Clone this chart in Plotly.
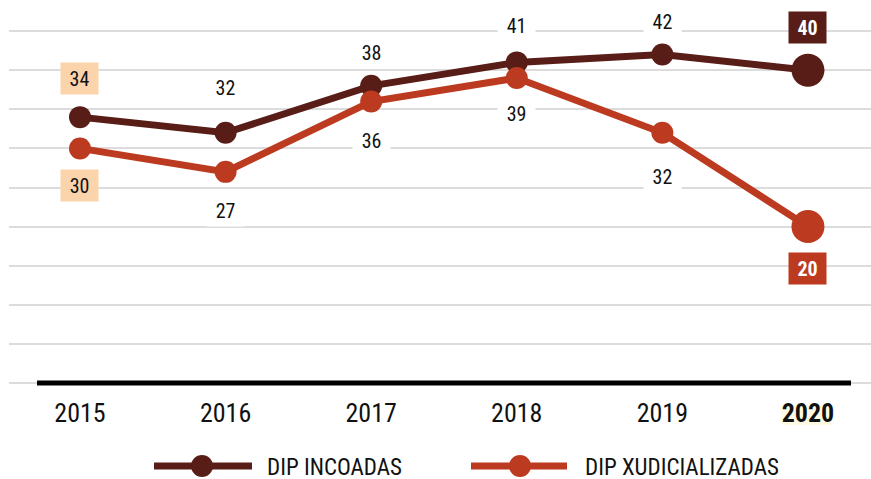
import plotly.graph_objects as go

years = ["2015", "2016", "2017", "2018", "2019", "2020"]
incoadas = [34, 32, 38, 41, 42, 40]
xudicializadas = [30, 27, 36, 39, 32, 20]
series_names = ["DIP INCOADAS", "DIP XUDICIALIZADAS"]

# styling
C1 = "#581d17"
C2 = "#bc3a1f"
PEACH = "#fcd4ac"
FONT = "Liberation Sans Narrow, Arial Narrow, Roboto Condensed, DejaVu Sans Condensed, sans-serif"
label_shift_1 = [39, 45, 33, 37, 33, 43]    # px above point
label_shift_2 = [37, 39, 39, 35, 44, 42]    # px below point

xi = list(range(len(years)))
last = len(years) - 1
sizes = [22] * last + [33]

fig = go.Figure()
for vals, col, name in [(incoadas, C1, series_names[0]), (xudicializadas, C2, series_names[1])]:
    fig.add_trace(go.Scatter(
        x=xi, y=vals, mode="lines+markers", name=name,
        line=dict(color=col, width=7),
        marker=dict(color=col, size=sizes, opacity=1, line=dict(width=0)),
        showlegend=False, hoverinfo="skip"))

ann = []
for series, shifts, col, sign in [(incoadas, label_shift_1, C1, 1), (xudicializadas, label_shift_2, C2, -1)]:
    for i, v in enumerate(series):
        if i == 0:
            bg, fc, txt = PEACH, "#111", str(v)
        elif i == last:
            bg, fc, txt = col, "white", "<b>%d</b>" % v
        else:
            bg, fc, txt = "white", "#111", str(v)
        ann.append(dict(x=i, y=v, xref="x", yref="y", text=txt, showarrow=False,
                        yshift=sign * shifts[i], bgcolor=bg, width=37, height=31,
                        borderpad=0, align="center", valign="middle",
                        font=dict(family=FONT, size=20, color=fc)))

# legend (manual)
leg = [(151, 255, 202, 266, C1, series_names[0]), (468, 570, 520, 584, C2, series_names[1])]
def px_x(p):
    return (p - 9) / 862.0
def px_y(p):
    return (395 - p) / 395.0
shapes = []
for x0, x1, xc, xt, col, name in leg:
    shapes.append(dict(type="line", xref="paper", yref="paper", x0=px_x(x0 + 3), x1=px_x(x1 - 3),
                       y0=px_y(466), y1=px_y(466), line=dict(color=col, width=7)))
    shapes.append(dict(type="circle", xref="paper", yref="paper", xsizemode="pixel", ysizemode="pixel",
                       xanchor=px_x(xc), yanchor=px_y(466), x0=-11, x1=11, y0=-11, y1=11,
                       fillcolor=col, line=dict(width=0)))
    ann.append(dict(x=px_x(xt), y=px_y(467), xref="paper", yref="paper", text=name, showarrow=False,
                    xanchor="left", yanchor="middle", height=22, valign="middle", borderpad=0,
                    font=dict(family=FONT, size=23, color="#111")))

# baseline
shapes.append(dict(type="line", xref="paper", yref="y", x0=px_x(37), x1=px_x(851), y0=0, y1=0,
                   line=dict(color="#000", width=5), layer="above"))
# highlight behind 2020 tick label
shapes.append(dict(type="rect", xref="x", yref="paper", x0=last - 0.18, x1=last + 0.16,
                   y0=px_y(425), y1=px_y(405), fillcolor="#fffbe3", line=dict(width=0), layer="below"))

ticktext = years[:-1] + ["<b>%s</b>" % years[-1]]

fig.update_layout(
    width=871, height=479,
    margin=dict(l=9, r=0, t=0, b=84),
    paper_bgcolor="white", plot_bgcolor="white",
    showlegend=False,
    xaxis=dict(range=[-0.4876, 5.433], tickvals=xi, ticktext=ticktext, showgrid=False,
               zeroline=False, showline=False, ticks="", fixedrange=True,
               tickfont=dict(family=FONT, size=26, color="#111")),
    yaxis=dict(range=[-1.535, 48.98], dtick=5, tick0=0, showgrid=True, gridcolor="#dcdcdc",
               gridwidth=1.5, zeroline=False, showticklabels=False, showline=False, ticks=""),
    annotations=ann, shapes=shapes,
)
fig.write_html("out.html", config={"displayModeBar": False},
               post_script="document.body.style.margin='0';document.body.style.overflow='hidden';")
